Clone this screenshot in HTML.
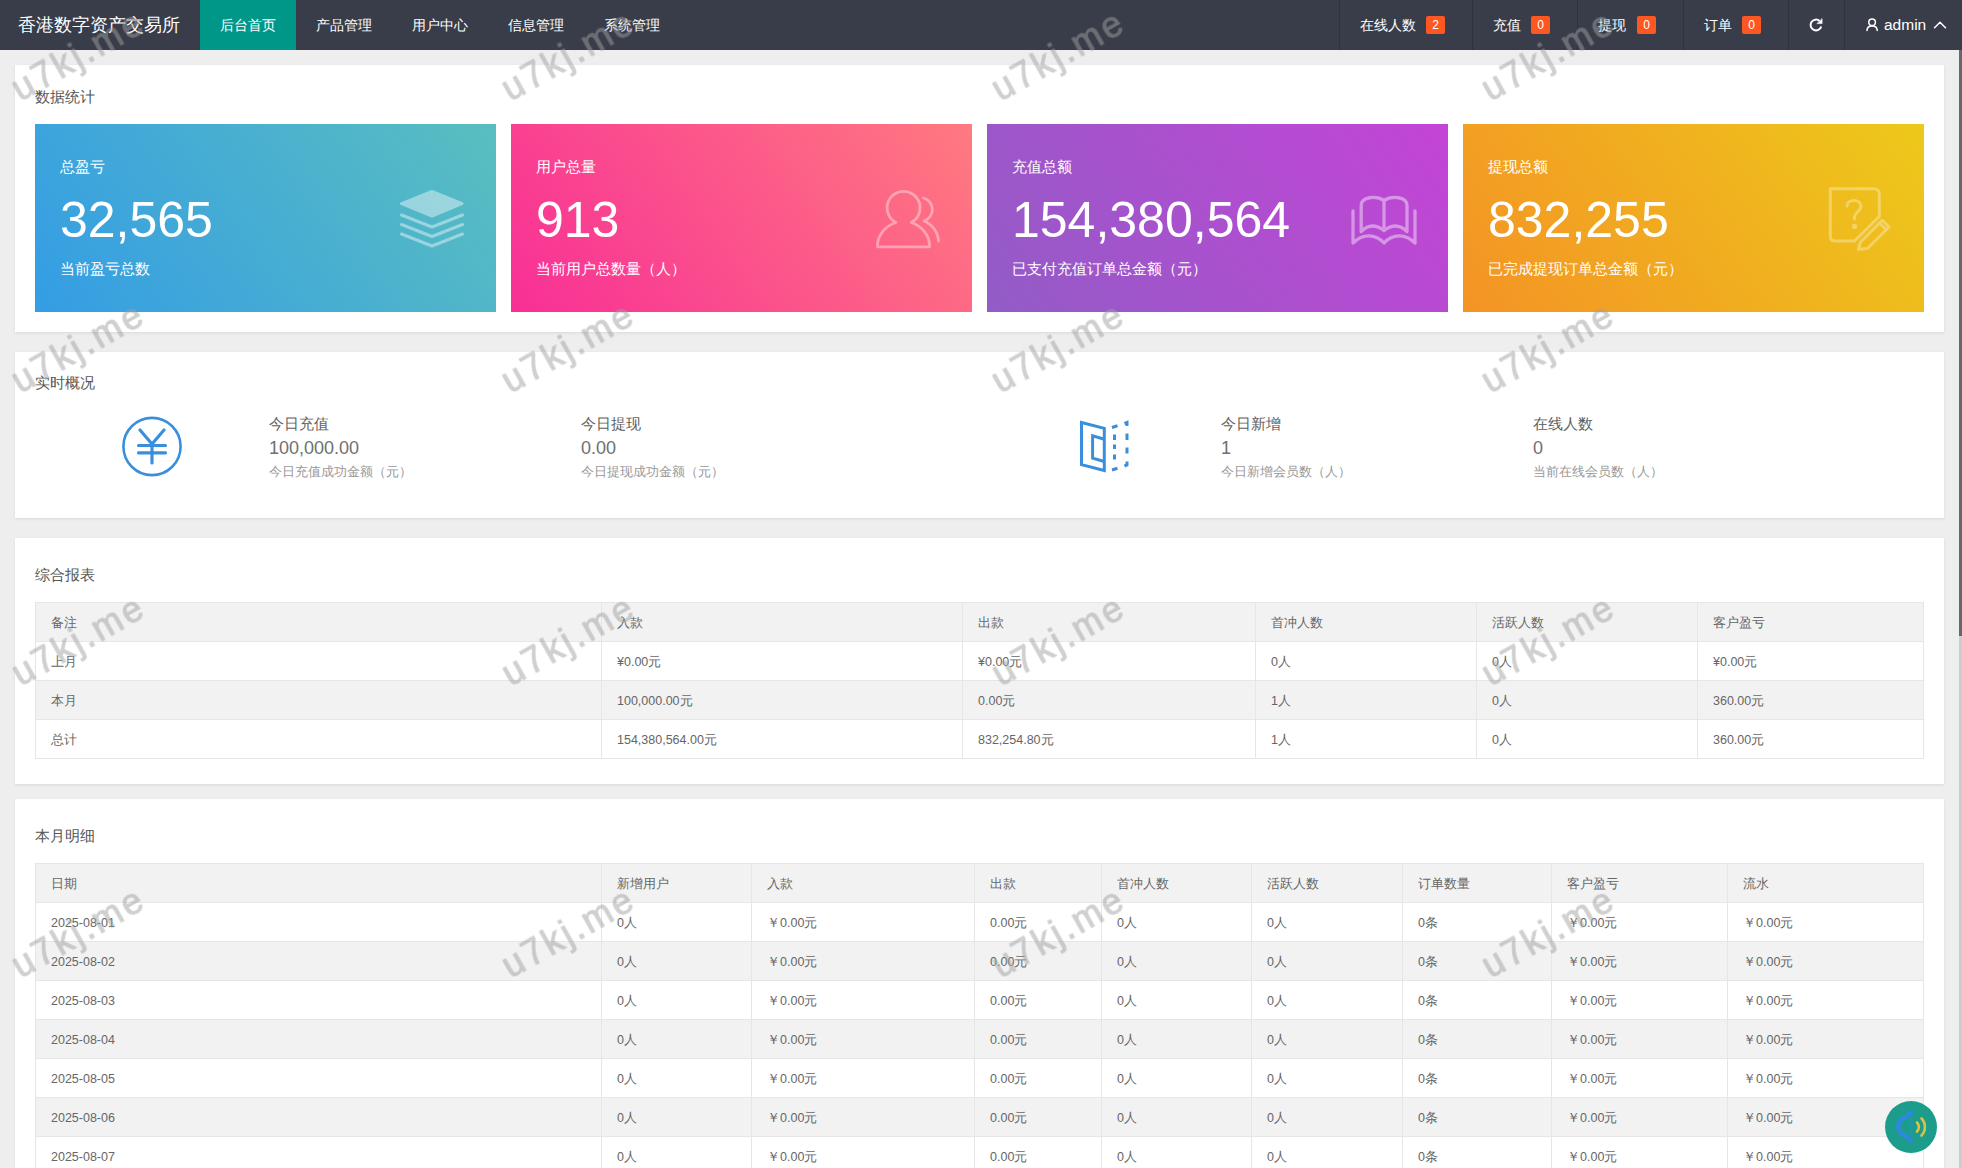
<!DOCTYPE html><html><head><meta charset="utf-8"><style>
*{box-sizing:border-box;margin:0;padding:0}
html,body{width:1962px;height:1168px;overflow:hidden}
body{position:relative;background:#eeeeee;font-family:"Liberation Sans",sans-serif;color:#666}
.a{position:absolute;white-space:nowrap}
.nav{position:absolute;top:0;height:50px;line-height:50px;font-size:14px;color:#fff;white-space:nowrap}
.sep{position:absolute;top:0;width:1px;height:50px;background:#2e323e}
.badge{position:absolute;top:16px;width:19px;height:18px;line-height:18px;text-align:center;background:#ff5722;color:#fff;font-size:12px;border-radius:2px}
.card{position:absolute;left:15px;width:1929px;background:#fff;box-shadow:0 1px 3px 0 rgba(0,0,0,.09)}
.ttl{position:absolute;font-size:15px;line-height:20px;color:#555;white-space:nowrap}
.gc{position:absolute;top:124px;width:461px;height:188px;color:#fff}
.gc .t1{position:absolute;left:25px;top:33px;font-size:15px;line-height:20px;white-space:nowrap}
.gc .num{position:absolute;left:25px;top:67px;font-size:50px;line-height:58px;white-space:nowrap}
.gc .t2{position:absolute;left:25px;top:135px;font-size:15px;line-height:20px;white-space:nowrap}
.tc{position:absolute;font-size:12.5px;line-height:20px;color:#666;white-space:nowrap}
.hl{position:absolute;height:1px;background:#e6e6e6}
.vl{position:absolute;width:1px;background:#e6e6e6}
</style></head><body>
<div class="a" style="left:0;top:0;width:1962px;height:50px;background:#393d49"></div>
<div class="a" style="left:18px;top:0;line-height:50px;font-size:18px;color:#fff">香港数字资产交易所</div>
<div class="a" style="left:200px;top:0;width:96px;height:50px;background:#009688"></div>
<div class="nav" style="left:220px">后台首页</div>
<div class="nav" style="left:316px">产品管理</div>
<div class="nav" style="left:412px">用户中心</div>
<div class="nav" style="left:508px">信息管理</div>
<div class="nav" style="left:604px">系统管理</div>
<div class="sep" style="left:1339px"></div>
<div class="sep" style="left:1472px"></div>
<div class="sep" style="left:1577px"></div>
<div class="sep" style="left:1683px"></div>
<div class="sep" style="left:1788px"></div>
<div class="sep" style="left:1844px"></div>
<div class="nav" style="left:1360px">在线人数</div><div class="badge" style="left:1426px">2</div>
<div class="nav" style="left:1493px">充值</div><div class="badge" style="left:1531px">0</div>
<div class="nav" style="left:1598px">提现</div><div class="badge" style="left:1637px">0</div>
<div class="nav" style="left:1704px">订单</div><div class="badge" style="left:1742px">0</div>
<div class="nav" style="left:1884px;font-size:15.5px">admin</div>
<div class="card" style="top:65px;height:267px"></div>
<div class="card" style="top:352px;height:166px"></div>
<div class="card" style="top:538px;height:246px"></div>
<div class="card" style="top:799px;height:400px"></div>
<div class="ttl" style="left:35px;top:87px">数据统计</div>
<div class="ttl" style="left:35px;top:373px">实时概况</div>
<div class="ttl" style="left:35px;top:565px">综合报表</div>
<div class="ttl" style="left:35px;top:826px">本月明细</div>
<div class="gc" style="left:35px;background:linear-gradient(55deg,#349de4,#5abec0)"><div class="t1">总盈亏</div><div class="num">32,565</div><div class="t2">当前盈亏总数</div></div>
<div class="gc" style="left:511px;background:linear-gradient(55deg,#f82f96,#ff7a80)"><div class="t1">用户总量</div><div class="num">913</div><div class="t2">当前用户总数量（人）</div></div>
<div class="gc" style="left:987px;background:linear-gradient(55deg,#925cc6,#c444d6)"><div class="t1">充值总额</div><div class="num">154,380,564</div><div class="t2">已支付充值订单总金额（元）</div></div>
<div class="gc" style="left:1463px;background:linear-gradient(55deg,#f49325,#edc91a)"><div class="t1">提现总额</div><div class="num">832,255</div><div class="t2">已完成提现订单总金额（元）</div></div>
<div class="a" style="left:269px;top:414px;font-size:15px;line-height:20px;color:#606060">今日充值</div>
<div class="a" style="left:269px;top:437px;font-size:18px;line-height:22px;color:#707070">100,000.00</div>
<div class="a" style="left:269px;top:462px;font-size:12.5px;line-height:20px;color:#999">今日充值成功金额（元）</div>
<div class="a" style="left:581px;top:414px;font-size:15px;line-height:20px;color:#606060">今日提现</div>
<div class="a" style="left:581px;top:437px;font-size:18px;line-height:22px;color:#707070">0.00</div>
<div class="a" style="left:581px;top:462px;font-size:12.5px;line-height:20px;color:#999">今日提现成功金额（元）</div>
<div class="a" style="left:1221px;top:414px;font-size:15px;line-height:20px;color:#606060">今日新增</div>
<div class="a" style="left:1221px;top:437px;font-size:18px;line-height:22px;color:#707070">1</div>
<div class="a" style="left:1221px;top:462px;font-size:12.5px;line-height:20px;color:#999">今日新增会员数（人）</div>
<div class="a" style="left:1533px;top:414px;font-size:15px;line-height:20px;color:#606060">在线人数</div>
<div class="a" style="left:1533px;top:437px;font-size:18px;line-height:22px;color:#707070">0</div>
<div class="a" style="left:1533px;top:462px;font-size:12.5px;line-height:20px;color:#999">当前在线会员数（人）</div>
<div class="a" style="left:35px;top:602px;width:1888px;height:39px;background:#f2f2f2"></div>
<div class="a" style="left:35px;top:680px;width:1888px;height:39px;background:#f2f2f2"></div>
<div class="hl" style="left:35px;top:602px;width:1889px"></div>
<div class="hl" style="left:35px;top:641px;width:1889px"></div>
<div class="hl" style="left:35px;top:680px;width:1889px"></div>
<div class="hl" style="left:35px;top:719px;width:1889px"></div>
<div class="hl" style="left:35px;top:758px;width:1889px"></div>
<div class="vl" style="left:35px;top:602px;height:157px"></div>
<div class="vl" style="left:601px;top:602px;height:157px"></div>
<div class="vl" style="left:962px;top:602px;height:157px"></div>
<div class="vl" style="left:1255px;top:602px;height:157px"></div>
<div class="vl" style="left:1476px;top:602px;height:157px"></div>
<div class="vl" style="left:1697px;top:602px;height:157px"></div>
<div class="vl" style="left:1923px;top:602px;height:157px"></div>
<div class="tc" style="left:51px;top:613px">备注</div>
<div class="tc" style="left:617px;top:613px">入款</div>
<div class="tc" style="left:978px;top:613px">出款</div>
<div class="tc" style="left:1271px;top:613px">首冲人数</div>
<div class="tc" style="left:1492px;top:613px">活跃人数</div>
<div class="tc" style="left:1713px;top:613px">客户盈亏</div>
<div class="tc" style="left:51px;top:652px">上月</div>
<div class="tc" style="left:617px;top:652px">¥0.00元</div>
<div class="tc" style="left:978px;top:652px">¥0.00元</div>
<div class="tc" style="left:1271px;top:652px">0人</div>
<div class="tc" style="left:1492px;top:652px">0人</div>
<div class="tc" style="left:1713px;top:652px">¥0.00元</div>
<div class="tc" style="left:51px;top:691px">本月</div>
<div class="tc" style="left:617px;top:691px">100,000.00元</div>
<div class="tc" style="left:978px;top:691px">0.00元</div>
<div class="tc" style="left:1271px;top:691px">1人</div>
<div class="tc" style="left:1492px;top:691px">0人</div>
<div class="tc" style="left:1713px;top:691px">360.00元</div>
<div class="tc" style="left:51px;top:730px">总计</div>
<div class="tc" style="left:617px;top:730px">154,380,564.00元</div>
<div class="tc" style="left:978px;top:730px">832,254.80元</div>
<div class="tc" style="left:1271px;top:730px">1人</div>
<div class="tc" style="left:1492px;top:730px">0人</div>
<div class="tc" style="left:1713px;top:730px">360.00元</div>
<div class="a" style="left:35px;top:863px;width:1888px;height:39px;background:#f2f2f2"></div>
<div class="a" style="left:35px;top:941px;width:1888px;height:39px;background:#f2f2f2"></div>
<div class="a" style="left:35px;top:1019px;width:1888px;height:39px;background:#f2f2f2"></div>
<div class="a" style="left:35px;top:1097px;width:1888px;height:39px;background:#f2f2f2"></div>
<div class="a" style="left:35px;top:1175px;width:1888px;height:39px;background:#f2f2f2"></div>
<div class="hl" style="left:35px;top:863px;width:1889px"></div>
<div class="hl" style="left:35px;top:902px;width:1889px"></div>
<div class="hl" style="left:35px;top:941px;width:1889px"></div>
<div class="hl" style="left:35px;top:980px;width:1889px"></div>
<div class="hl" style="left:35px;top:1019px;width:1889px"></div>
<div class="hl" style="left:35px;top:1058px;width:1889px"></div>
<div class="hl" style="left:35px;top:1097px;width:1889px"></div>
<div class="hl" style="left:35px;top:1136px;width:1889px"></div>
<div class="hl" style="left:35px;top:1175px;width:1889px"></div>
<div class="hl" style="left:35px;top:1214px;width:1889px"></div>
<div class="vl" style="left:35px;top:863px;height:352px"></div>
<div class="vl" style="left:601px;top:863px;height:352px"></div>
<div class="vl" style="left:751px;top:863px;height:352px"></div>
<div class="vl" style="left:974px;top:863px;height:352px"></div>
<div class="vl" style="left:1101px;top:863px;height:352px"></div>
<div class="vl" style="left:1251px;top:863px;height:352px"></div>
<div class="vl" style="left:1402px;top:863px;height:352px"></div>
<div class="vl" style="left:1551px;top:863px;height:352px"></div>
<div class="vl" style="left:1727px;top:863px;height:352px"></div>
<div class="vl" style="left:1923px;top:863px;height:352px"></div>
<div class="tc" style="left:51px;top:874px">日期</div>
<div class="tc" style="left:617px;top:874px">新增用户</div>
<div class="tc" style="left:767px;top:874px">入款</div>
<div class="tc" style="left:990px;top:874px">出款</div>
<div class="tc" style="left:1117px;top:874px">首冲人数</div>
<div class="tc" style="left:1267px;top:874px">活跃人数</div>
<div class="tc" style="left:1418px;top:874px">订单数量</div>
<div class="tc" style="left:1567px;top:874px">客户盈亏</div>
<div class="tc" style="left:1743px;top:874px">流水</div>
<div class="tc" style="left:51px;top:913px">2025-08-01</div>
<div class="tc" style="left:617px;top:913px">0人</div>
<div class="tc" style="left:767px;top:913px">￥0.00元</div>
<div class="tc" style="left:990px;top:913px">0.00元</div>
<div class="tc" style="left:1117px;top:913px">0人</div>
<div class="tc" style="left:1267px;top:913px">0人</div>
<div class="tc" style="left:1418px;top:913px">0条</div>
<div class="tc" style="left:1567px;top:913px">￥0.00元</div>
<div class="tc" style="left:1743px;top:913px">￥0.00元</div>
<div class="tc" style="left:51px;top:952px">2025-08-02</div>
<div class="tc" style="left:617px;top:952px">0人</div>
<div class="tc" style="left:767px;top:952px">￥0.00元</div>
<div class="tc" style="left:990px;top:952px">0.00元</div>
<div class="tc" style="left:1117px;top:952px">0人</div>
<div class="tc" style="left:1267px;top:952px">0人</div>
<div class="tc" style="left:1418px;top:952px">0条</div>
<div class="tc" style="left:1567px;top:952px">￥0.00元</div>
<div class="tc" style="left:1743px;top:952px">￥0.00元</div>
<div class="tc" style="left:51px;top:991px">2025-08-03</div>
<div class="tc" style="left:617px;top:991px">0人</div>
<div class="tc" style="left:767px;top:991px">￥0.00元</div>
<div class="tc" style="left:990px;top:991px">0.00元</div>
<div class="tc" style="left:1117px;top:991px">0人</div>
<div class="tc" style="left:1267px;top:991px">0人</div>
<div class="tc" style="left:1418px;top:991px">0条</div>
<div class="tc" style="left:1567px;top:991px">￥0.00元</div>
<div class="tc" style="left:1743px;top:991px">￥0.00元</div>
<div class="tc" style="left:51px;top:1030px">2025-08-04</div>
<div class="tc" style="left:617px;top:1030px">0人</div>
<div class="tc" style="left:767px;top:1030px">￥0.00元</div>
<div class="tc" style="left:990px;top:1030px">0.00元</div>
<div class="tc" style="left:1117px;top:1030px">0人</div>
<div class="tc" style="left:1267px;top:1030px">0人</div>
<div class="tc" style="left:1418px;top:1030px">0条</div>
<div class="tc" style="left:1567px;top:1030px">￥0.00元</div>
<div class="tc" style="left:1743px;top:1030px">￥0.00元</div>
<div class="tc" style="left:51px;top:1069px">2025-08-05</div>
<div class="tc" style="left:617px;top:1069px">0人</div>
<div class="tc" style="left:767px;top:1069px">￥0.00元</div>
<div class="tc" style="left:990px;top:1069px">0.00元</div>
<div class="tc" style="left:1117px;top:1069px">0人</div>
<div class="tc" style="left:1267px;top:1069px">0人</div>
<div class="tc" style="left:1418px;top:1069px">0条</div>
<div class="tc" style="left:1567px;top:1069px">￥0.00元</div>
<div class="tc" style="left:1743px;top:1069px">￥0.00元</div>
<div class="tc" style="left:51px;top:1108px">2025-08-06</div>
<div class="tc" style="left:617px;top:1108px">0人</div>
<div class="tc" style="left:767px;top:1108px">￥0.00元</div>
<div class="tc" style="left:990px;top:1108px">0.00元</div>
<div class="tc" style="left:1117px;top:1108px">0人</div>
<div class="tc" style="left:1267px;top:1108px">0人</div>
<div class="tc" style="left:1418px;top:1108px">0条</div>
<div class="tc" style="left:1567px;top:1108px">￥0.00元</div>
<div class="tc" style="left:1743px;top:1108px">￥0.00元</div>
<div class="tc" style="left:51px;top:1147px">2025-08-07</div>
<div class="tc" style="left:617px;top:1147px">0人</div>
<div class="tc" style="left:767px;top:1147px">￥0.00元</div>
<div class="tc" style="left:990px;top:1147px">0.00元</div>
<div class="tc" style="left:1117px;top:1147px">0人</div>
<div class="tc" style="left:1267px;top:1147px">0人</div>
<div class="tc" style="left:1418px;top:1147px">0条</div>
<div class="tc" style="left:1567px;top:1147px">￥0.00元</div>
<div class="tc" style="left:1743px;top:1147px">￥0.00元</div>
<div class="tc" style="left:51px;top:1186px">2025-08-08</div>
<div class="tc" style="left:617px;top:1186px">0人</div>
<div class="tc" style="left:767px;top:1186px">￥0.00元</div>
<div class="tc" style="left:990px;top:1186px">0.00元</div>
<div class="tc" style="left:1117px;top:1186px">0人</div>
<div class="tc" style="left:1267px;top:1186px">0人</div>
<div class="tc" style="left:1418px;top:1186px">0条</div>
<div class="tc" style="left:1567px;top:1186px">￥0.00元</div>
<div class="tc" style="left:1743px;top:1186px">￥0.00元</div>
<div class="a" style="left:1959px;top:50px;width:3px;height:1118px;background:#cdcdcd"></div>
<div class="a" style="left:1959px;top:50px;width:3px;height:586px;background:#676767"></div>
<svg class="a" style="left:0;top:0" width="1962" height="1168" viewBox="0 0 1962 1168" fill="none" stroke-linecap="round" stroke-linejoin="round">
<!-- layers -->
<g stroke="#fff" opacity=".42" stroke-width="3">
  <path d="M401.5,203.6 L432,191.5 L462,203.6 L432,216 Z" fill="#fff" stroke-width="3"/>
  <path d="M401.5,215 L432,227 L462.5,215"/>
  <path d="M401.5,224.5 L432,236.5 L462.5,224.5"/>
  <path d="M401.5,234 L432,246 L462.5,234"/>
</g>
<!-- users -->
<g stroke="#fff" opacity=".38" stroke-width="2.8">
  <path d="M896,222.5 A16.5,16.5 0 1 1 911.2,222.5 C922,226 930,236 929.6,246.8 L877.4,246.8 C877,236 885,226 896,222.5 Z"/>
  <path d="M923.5,198 A12,12 0 0 1 924,221 C932,224 938,232 938.5,241"/>
</g>
<!-- book -->
<g stroke="#fff" opacity=".42" stroke-width="3.3">
  <path d="M1353,211 V243 C1362,234 1375,233 1384,243 C1393,233 1406,234 1415,243 V211"/>
  <path d="M1384,230.5 C1376,224.5 1368,224.5 1361.2,231.5 V205.5 C1361.2,196.5 1376,195.5 1384,200.5 V230.5"/>
  <path d="M1384,200.5 C1392,195.5 1407,196.5 1407,205.5 V231.5 C1400,224.5 1392,224.5 1384,230.5"/>
</g>
<!-- note + pencil -->
<g stroke="#fff" opacity=".32" stroke-width="3">
  <path d="M1879.3,216.5 L1854.5,241 H1835 C1832,241 1830.3,239 1830.3,236 V188.8 H1874 C1877,188.8 1879.3,191 1879.3,194 V216.5" stroke-linejoin="miter"/>
  <path d="M1847,206 C1847,202.5 1850,200.5 1854,200.5 C1858,200.5 1861,203 1861,206.5 C1861,210.5 1855,212 1854.5,216.5 V219"/>
  <circle cx="1854.5" cy="226.5" r="1.2" fill="#fff"/>
  <path d="M1858.3,249.3 L1860.3,242.3 L1882.3,220.3 L1889,227 L1867.5,248.5 Z"/>
  <path d="M1879.5,223.1 L1886.2,229.8"/>
</g>
<!-- yen circle -->
<g stroke="#3a8fdd" stroke-width="2.6">
  <circle cx="152" cy="446.5" r="28.6"/>
  <path d="M140,430 L152,444 L164,430" stroke-width="3.2"/>
  <path d="M138.5,445.5 H165.5 M138.5,452.8 H165.5 M152,444 V463" stroke-width="3.2"/>
</g>
<!-- door -->
<g stroke="#3a8fdd" stroke-width="3" stroke-linecap="butt" stroke-linejoin="miter">
  <path d="M1081.5,422.5 L1104.3,428.3 L1104.3,470.5 L1081.5,464.7 Z"/>
  <path d="M1104.3,439.2 L1092.6,435.8 L1092.6,458.2 L1104.3,461.5"/>
  <path d="M1112,427.5 L1117.5,425.8 M1124.5,423.5 L1127,422.5 L1127,426 M1127,433.5 V440 M1127,447.5 V453.5 M1127,461.5 V465 L1124.5,466 M1117.5,468.3 L1112,470"/>
  <path d="M1114.5,434.5 V440 M1114.5,444.5 V449 M1114.5,454.5 V459.5"/>
</g>
<!-- refresh -->
<g stroke="#fff" stroke-width="2">
  <path d="M1821.2,26.4 A5.4,5.4 0 1 1 1819.6,21" stroke-linecap="butt"/>
  <path d="M1822.1,18.9 V23.6 H1817.2 Z" fill="#fff" stroke-width="0.6"/>
</g>
<!-- user -->
<g stroke="#fff" stroke-width="1.5">
  <circle cx="1872.1" cy="22.2" r="3.3"/>
  <path d="M1867,30.6 C1867,27.6 1869.2,26 1872.1,26 C1875,26 1877.2,27.6 1877.2,30.6"/>
  <path d="M1934.5,27.7 L1940,22.2 L1945.5,27.7"/>
</g>
<!-- sound button -->
<circle cx="1911" cy="1127" r="26" fill="#1c9d8b"/>
<path d="M1911,1112.5 C1905,1117 1898,1121 1898,1126.5 C1898,1132 1905,1136 1911,1140.5" stroke="#2f88e0" stroke-width="4.2"/><path d="M1911,1113 V1140" stroke="#2f86dc" stroke-width="3" opacity=".35"/>
<path d="M1917,1122.5 C1919.5,1125 1919.5,1129 1917,1131.5" stroke="#e0bf45" stroke-width="2.6"/>
<path d="M1921.5,1118.5 C1926,1123 1926,1131 1921.5,1135.5" stroke="#e0bf45" stroke-width="2.6"/>
</svg>

<svg class="a" style="left:0;top:0" width="1962" height="1168" viewBox="0 0 1962 1168"><g opacity=".5" fill="#a0a0a0" stroke="#a0a0a0" stroke-width="1" font-family="Liberation Sans" font-size="36" letter-spacing="3">
<text x="20.5" y="102.1" transform="rotate(-29.5 20.5 102.1)">u7kj.me</text>
<text x="510.5" y="102.1" transform="rotate(-29.5 510.5 102.1)">u7kj.me</text>
<text x="1000.5" y="102.1" transform="rotate(-29.5 1000.5 102.1)">u7kj.me</text>
<text x="1490.5" y="102.1" transform="rotate(-29.5 1490.5 102.1)">u7kj.me</text>
<text x="20.5" y="394.3" transform="rotate(-29.5 20.5 394.3)">u7kj.me</text>
<text x="510.5" y="394.3" transform="rotate(-29.5 510.5 394.3)">u7kj.me</text>
<text x="1000.5" y="394.3" transform="rotate(-29.5 1000.5 394.3)">u7kj.me</text>
<text x="1490.5" y="394.3" transform="rotate(-29.5 1490.5 394.3)">u7kj.me</text>
<text x="20.5" y="686.5" transform="rotate(-29.5 20.5 686.5)">u7kj.me</text>
<text x="510.5" y="686.5" transform="rotate(-29.5 510.5 686.5)">u7kj.me</text>
<text x="1000.5" y="686.5" transform="rotate(-29.5 1000.5 686.5)">u7kj.me</text>
<text x="1490.5" y="686.5" transform="rotate(-29.5 1490.5 686.5)">u7kj.me</text>
<text x="20.5" y="978.7" transform="rotate(-29.5 20.5 978.7)">u7kj.me</text>
<text x="510.5" y="978.7" transform="rotate(-29.5 510.5 978.7)">u7kj.me</text>
<text x="1000.5" y="978.7" transform="rotate(-29.5 1000.5 978.7)">u7kj.me</text>
<text x="1490.5" y="978.7" transform="rotate(-29.5 1490.5 978.7)">u7kj.me</text>
</g></svg>
</body></html>
